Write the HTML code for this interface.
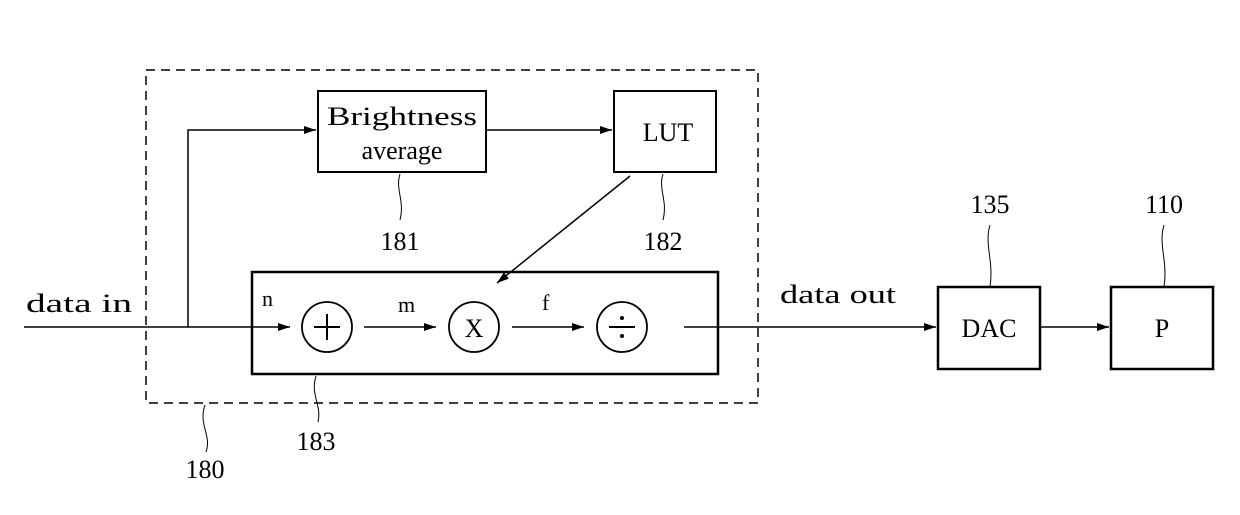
<!DOCTYPE html>
<html><head><style>
html,body{margin:0;padding:0;background:#fff;}
svg text{font-family:"Liberation Serif",serif;fill:#000;}
</style></head><body>
<svg width="1240" height="510" viewBox="0 0 1240 510" xmlns="http://www.w3.org/2000/svg">
<defs><marker id="a" markerWidth="12" markerHeight="8" refX="12" refY="4" orient="auto" markerUnits="userSpaceOnUse"><path d="M0,0 L12,4 L0,8 z" fill="#000"/></marker></defs>
<g fill="none" stroke="#000">
<rect x="146" y="70" width="612" height="333" stroke-width="1.5" stroke-dasharray="9,6"/>
<rect x="318" y="91" width="168" height="81" stroke-width="2"/>
<rect x="614" y="91" width="102" height="81" stroke-width="2"/>
<rect x="252" y="272" width="466" height="102" stroke-width="2.5"/>
<rect x="938" y="287" width="102" height="82" stroke-width="2.5"/>
<rect x="1111" y="287" width="102" height="82" stroke-width="2.5"/>
<circle cx="327" cy="327" r="25" stroke-width="1.8"/>
<circle cx="474" cy="327" r="25" stroke-width="1.8"/>
<circle cx="622" cy="327" r="25" stroke-width="1.8"/>
<g stroke-width="1.5">
<line x1="24" y1="327" x2="290" y2="327" marker-end="url(#a)"/>
<polyline points="188,327 188,130 316,130" marker-end="url(#a)"/>
<line x1="486" y1="130" x2="612" y2="130" marker-end="url(#a)"/>
<line x1="364" y1="327" x2="436" y2="327" marker-end="url(#a)"/>
<line x1="512" y1="327" x2="584" y2="327" marker-end="url(#a)"/>
<line x1="684" y1="327" x2="936" y2="327" marker-end="url(#a)"/>
<line x1="1040" y1="327" x2="1109" y2="327" marker-end="url(#a)"/>
<line x1="630" y1="176" x2="497" y2="283" marker-end="url(#a)"/>
</g>
<g stroke-width="1">
<path d="M400,174 C395,190 405,200 400,220"/>
<path d="M663,174 C658,190 668,200 663,220"/>
<path d="M316,376 C310,395 322,405 318,422"/>
<path d="M205,405 C198,425 212,435 206,452"/>
<path d="M990,225 C984,245 994,260 990,287"/>
<path d="M1164,225 C1158,245 1168,260 1164,287"/>
</g>
<line x1="327" y1="314" x2="327" y2="340" stroke-width="2"/>
<line x1="314" y1="327" x2="340" y2="327" stroke-width="2"/>
<line x1="609" y1="327" x2="635" y2="327" stroke-width="2"/>
</g>
<circle cx="622" cy="318" r="2" fill="#000"/>
<circle cx="622" cy="336" r="2" fill="#000"/>
<g font-size="26">
<text x="402" y="125" text-anchor="middle" textLength="150" lengthAdjust="spacingAndGlyphs">Brightness</text>
<text x="402" y="159" text-anchor="middle">average</text>
<text x="668" y="141" text-anchor="middle">LUT</text>
<text x="474" y="337" text-anchor="middle">X</text>
<text x="989" y="337" text-anchor="middle">DAC</text>
<text x="1162" y="337" text-anchor="middle">P</text>
<text x="26" y="312" textLength="106" lengthAdjust="spacingAndGlyphs">data in</text>
<text x="780" y="303" textLength="116" lengthAdjust="spacingAndGlyphs">data out</text>
<text x="262" y="306" font-size="22">n</text>
<text x="398" y="312" font-size="22">m</text>
<text x="542" y="310" font-size="22">f</text>
<text x="400" y="250" text-anchor="middle">181</text>
<text x="663" y="250" text-anchor="middle">182</text>
<text x="316" y="450" text-anchor="middle">183</text>
<text x="205" y="478" text-anchor="middle">180</text>
<text x="990" y="213" text-anchor="middle">135</text>
<text x="1164" y="213" text-anchor="middle">110</text>
</g>
</svg>
</body></html>
